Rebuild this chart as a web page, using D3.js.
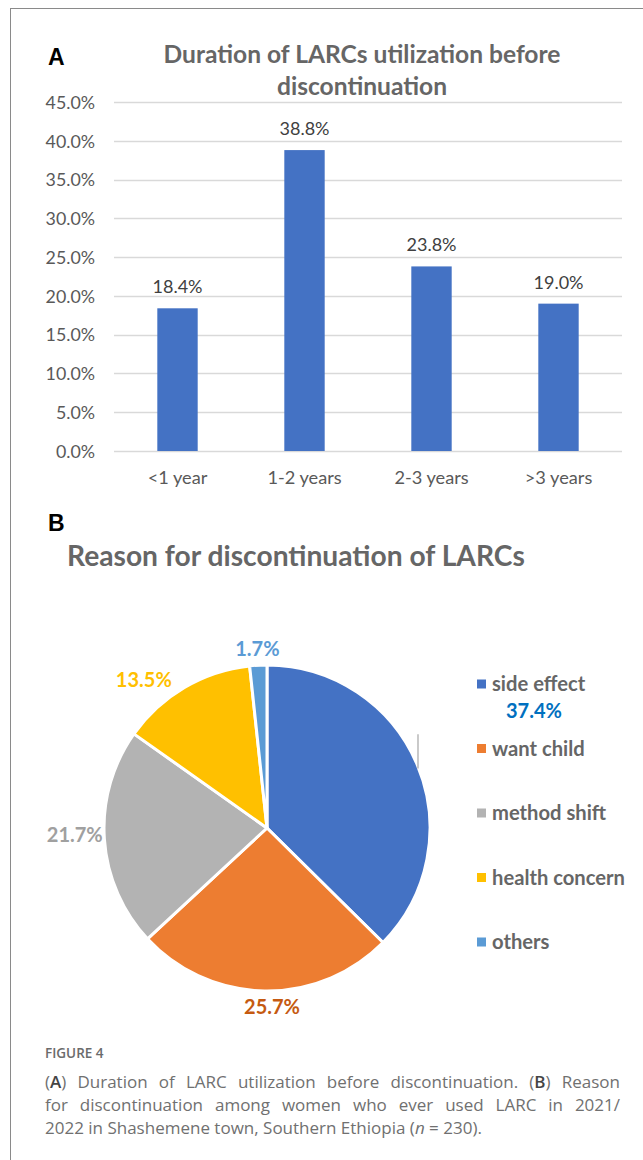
<!DOCTYPE html>
<html>
<head>
<meta charset="utf-8">
<script src="https://cdn.jsdelivr.net/npm/d3@7/dist/d3.min.js"></script>
<style>
  html, body { margin: 0; padding: 0; background: #fff; }
  svg { display: block; }
</style>
</head>
<body>
<svg id="chart" width="643" height="1160"></svg>
<script>
// ---------- data ----------
const durationCategories = ["<1 year", "1-2 years", "2-3 years", ">3 years"];
const durationValues = [18.4, 38.8, 23.8, 19.0];
const yTickValues = [0, 5, 10, 15, 20, 25, 30, 35, 40, 45];

const reasonLabels = ["side effect", "want child", "method shift", "health concern", "others"];
const reasonValues = [37.4, 25.7, 21.7, 13.5, 1.7];

const titleA = ["Duration of LARCs utilization before", "discontinuation"];
const titleB = "Reason for discontinuation of LARCs";
const captionHead = "FIGURE 4";

// ---------- styles ----------
const chartFont = "Lato, 'Open Sans', sans-serif";
const reasonColors = ["#4472C4", "#ED7D31", "#B3B3B3", "#FFC000", "#5B9BD5"];
const reasonLabelColors = ["#0070C0", "#C55A11", "#A0A0A0", "#FFC000", "#5B9BD5"];
const labelRadiusFactor = [1.79, 1.10, 1.18, 1.18, 1.10];
const labelAngleNudgeDeg = [-1.1, -2.5, 1.7, -9.4, 0];

const svg = d3.select("#chart");

function fitWidth(sel, target) {
  const node = sel.node();
  const fs = parseFloat(sel.attr("font-size"));
  const w = node.getComputedTextLength();
  if (w > 0) sel.attr("font-size", (fs * target / w).toFixed(2));
  return sel;
}

// frame
svg.append("line").attr("x1", 10.5).attr("x2", 10.5).attr("y1", 8).attr("y2", 1160)
  .attr("stroke", "#8a8a8a").attr("stroke-width", 1);
svg.append("line").attr("x1", 10).attr("x2", 643).attr("y1", 8.5).attr("y2", 8.5)
  .attr("stroke", "#8a8a8a").attr("stroke-width", 1);

// ---------- Panel A ----------
svg.append("text").attr("x", 48).attr("y", 65).text("A")
  .attr("font-family", "'Liberation Sans', Arial, sans-serif").attr("font-weight", "bold")
  .attr("font-size", 23).attr("fill", "#000");

const tA1 = svg.append("text").attr("x", 362).attr("y", 63).attr("text-anchor", "middle")
  .attr("font-family", chartFont).attr("font-weight", "bold").attr("font-size", 22)
  .attr("fill", "#666666").text(titleA[0]);
fitWidth(tA1, 397);
svg.append("text").attr("x", 362).attr("y", 95).attr("text-anchor", "middle")
  .attr("font-family", chartFont).attr("font-weight", "bold").attr("font-size", tA1.attr("font-size"))
  .attr("fill", "#666666").text(titleA[1]);

const x = d3.scaleBand().domain(durationCategories).range([114, 622]).padding(0);
const y = d3.scaleLinear().domain([0, 45]).range([451, 102]);

// gridlines
svg.append("g").selectAll("line").data(yTickValues).join("line")
  .attr("x1", 114).attr("x2", 622)
  .attr("y1", d => Math.round(y(d)) + 0.5).attr("y2", d => Math.round(y(d)) + 0.5)
  .attr("stroke", "#D9D9D9").attr("stroke-width", 1.3);

// y axis labels
const yAxis = d3.axisLeft(y).tickValues(yTickValues).tickSize(0).tickPadding(0)
  .tickFormat(d => d.toFixed(1) + "%");
const gy = svg.append("g").attr("transform", "translate(95,0)").call(yAxis);
gy.select(".domain").remove();
gy.selectAll("text").attr("font-family", chartFont).attr("font-size", 17.8)
  .attr("fill", "#595959").attr("dy", "0.35em");

// x axis labels
const xAxis = d3.axisBottom(x).tickSize(0).tickPadding(0);
const gx = svg.append("g").attr("transform", "translate(0,471)").call(xAxis);
gx.select(".domain").remove();
gx.selectAll("text").attr("font-family", chartFont).attr("font-size", 18.2)
  .attr("fill", "#595959").attr("dy", "0.71em");

// bars
const barW = x.bandwidth() * 0.318;
svg.append("g").selectAll("rect").data(durationValues).join("rect")
  .attr("x", (d, i) => x(durationCategories[i]) + x.bandwidth() / 2 - barW / 2)
  .attr("width", barW)
  .attr("y", d => y(d))
  .attr("height", d => y(0) - y(d))
  .attr("fill", "#4472C4");

// bar value labels
svg.append("g").selectAll("text").data(durationValues).join("text")
  .attr("x", (d, i) => x(durationCategories[i]) + x.bandwidth() / 2)
  .attr("y", d => y(d) - 15)
  .attr("text-anchor", "middle")
  .attr("font-family", chartFont).attr("font-size", 18).attr("fill", "#404040")
  .text(d => d.toFixed(1) + "%");

// ---------- Panel B ----------
svg.append("text").attr("x", 48).attr("y", 531).text("B")
  .attr("font-family", "'Liberation Sans', Arial, sans-serif").attr("font-weight", "bold")
  .attr("font-size", 23).attr("fill", "#000");

const tB = svg.append("text").attr("x", 67).attr("y", 566)
  .attr("font-family", chartFont).attr("font-weight", "bold").attr("font-size", 27)
  .attr("fill", "#666666").text(titleB);
fitWidth(tB, 458);

const cx = 267, cy = 828, R = 163;
const pie = d3.pie().sort(null).value(d => d);
const arcs = pie(reasonValues);
const arc = d3.arc().innerRadius(0).outerRadius(R);

const gp = svg.append("g").attr("transform", `translate(${cx},${cy})`);
gp.selectAll("path").data(arcs).join("path")
  .attr("d", arc)
  .attr("fill", (d, i) => reasonColors[i])
  .attr("stroke", "#fff").attr("stroke-width", 3).attr("stroke-linejoin", "round");

// data labels
const labelPos = arcs.map((a, i) => {
  const mid = (a.startAngle + a.endAngle) / 2 + labelAngleNudgeDeg[i] * Math.PI / 180;
  const r = R * labelRadiusFactor[i];
  return [Math.sin(mid) * r, -Math.cos(mid) * r];
});
// leader line for first slice
{
  const lp = labelPos[0];
  const lx = lp[0] - 116;
  const ly = -Math.sqrt(R * R - lx * lx);
  gp.append("line").attr("x1", lx).attr("x2", lx).attr("y1", lp[1] + 24).attr("y2", ly + 2)
    .attr("stroke", "#A6A6A6").attr("stroke-width", 1.2);
}
gp.selectAll("text.lbl").data(arcs).join("text").attr("class", "lbl")
  .attr("x", (d, i) => labelPos[i][0])
  .attr("y", (d, i) => labelPos[i][1])
  .attr("dy", "0.36em")
  .attr("text-anchor", "middle")
  .attr("font-family", chartFont).attr("font-weight", "bold").attr("font-size", 20)
  .attr("fill", (d, i) => reasonLabelColors[i])
  .text(d => d.data.toFixed(1) + "%");

// legend
const legendY = d3.scalePoint().domain(reasonLabels).range([684, 942]);
const gl = svg.append("g");
gl.selectAll("rect").data(reasonLabels).join("rect")
  .attr("x", 477).attr("y", d => legendY(d) - 4.5).attr("width", 9).attr("height", 9)
  .attr("fill", (d, i) => reasonColors[i]);
const legendTexts = gl.selectAll("text").data(reasonLabels).join("text")
  .attr("x", 492).attr("y", d => legendY(d)).attr("dy", "0.35em")
  .attr("font-family", chartFont).attr("font-weight", "bold").attr("font-size", 19)
  .attr("fill", "#666666").text(d => d);
{
  const longest = legendTexts.filter(d => d === "health concern");
  const fs0 = 19, w = longest.node().getComputedTextLength();
  legendTexts.attr("font-size", (fs0 * 133 / w).toFixed(2));
}

// ---------- caption ----------
const capFont = "'Open Sans', 'Noto Sans', sans-serif";
svg.append("text").attr("x", 45).attr("y", 1058)
  .attr("font-family", capFont).attr("font-size", 13.5).attr("font-weight", 600)
  .attr("fill", "#6b6b6b").text(captionHead);

const capLines = [
  [["(", ""], ["A", "b"], [") Duration of LARC utilization before discontinuation. (", ""], ["B", "b"], [") Reason", ""]],
  [["for discontinuation among women who ever used LARC in 2021/", ""]],
  [["2022 in Shashemene town, Southern Ethiopia (", ""], ["n", "i"], [" = 230).", ""]]
];
const capBase = [1088, 1111, 1134];
capLines.forEach((parts, li) => {
  const t = svg.append("text").attr("x", 45).attr("y", capBase[li])
    .attr("font-family", capFont).attr("font-size", 17).attr("font-weight", 400)
    .attr("fill", "#707070");
  parts.forEach(p => {
    const s = t.append("tspan").text(p[0]);
    if (p[1] === "b") s.attr("font-weight", 600).attr("fill", "#444");
    if (p[1] === "i") s.attr("font-style", "italic");
  });
  if (li < 2) {
    const full = parts.map(p => p[0]).join("");
    const nSpaces = (full.match(/ /g) || []).length;
    const w = t.node().getComputedTextLength();
    const ws = Math.max(0, (575 - w) / nSpaces);
    t.style("word-spacing", ws + "px");
  }
});
</script>
</body>
</html>
